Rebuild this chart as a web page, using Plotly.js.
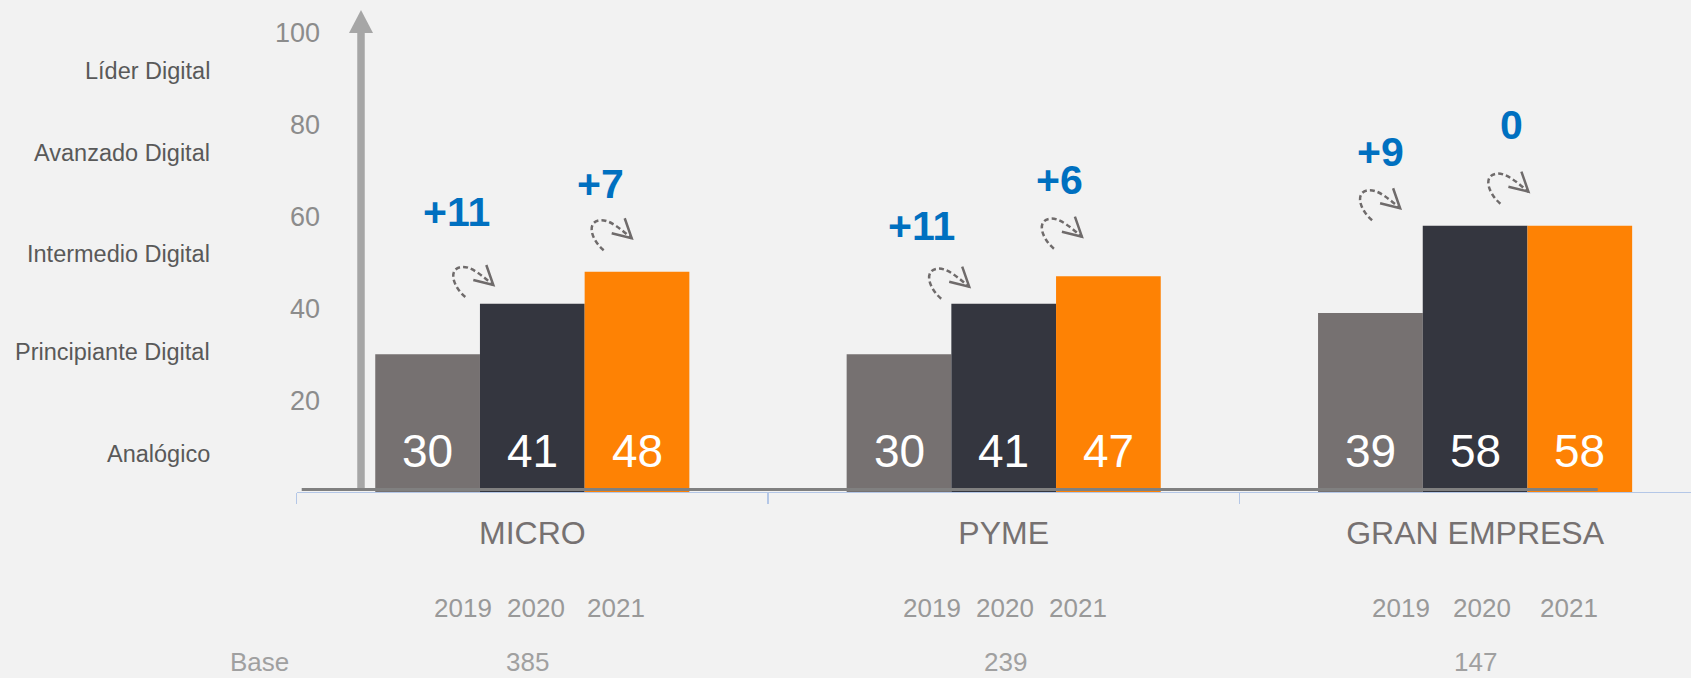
<!DOCTYPE html>
<html><head><meta charset="utf-8">
<script src="https://cdn.plot.ly/plotly-3.0.1.min.js"></script>
<style>html,body{margin:0;padding:0;background:#f2f2f2;}#chart{width:1691px;height:678px;}</style>
</head><body><div id="chart"></div>
<script>
// ---------- data ----------
const categories = ['MICRO', 'PYME', 'GRAN EMPRESA'];
const years = ['2019', '2020', '2021'];
const values2019 = [30, 30, 39];
const values2020 = [41, 41, 58];
const values2021 = [48, 47, 58];
const change1920 = ['+11', '+11', '+9'];
const change2021 = ['+7', '+6', '0'];
const baseSizes = ['385', '239', '147'];
const baseLabel = 'Base';
const levelLabels = ['Líder Digital', 'Avanzado Digital', 'Intermedio Digital', 'Principiante Digital', 'Analógico'];
const yTicks = [20, 40, 60, 80, 100];

// ---------- layout / style ----------
const W = 1691, H = 678;
const PLOT_TOP = 33, PLOT_BOTTOM = 492;
const FONT = '"Liberation Sans", Arial, sans-serif';
const barColors = ['#767171', '#34363f', '#fe8204'];
const barPx = 104.7;
const levelPos = [91.7, 73.9, 51.9, 30.6, 8.3];
const yearShift = [[-69.3, 3.7, 83.7], [-71.5, 1.5, 74], [-73.7, 7, 93.5]];
const baseShift = [-4.8, 1.5, 0];
const changeText = [
  {dx: [-75.6, -82.5, -94.2], dy: [92.1, 77.8, 74.1]},
  {dx: [68.5, 55.7, 36.2], dy: [87.5, 96.3, 100.8]}
];
const arrowTip = [
  {dx: [-39, -34.5, -75], dy: [18.8, 17.1, 17.5]},
  {dx: [99.4, 78.2, 53.3], dy: [33.4, 39.6, 34.1]}
];
const curveTpl = [[-28, -12], [-40, -2], [-46, 16], [-32, 18], [-22, 19.5], [-10, 8], [0, 0]];
const headTpl = [[-7, 20], [0, 0], [-20, 5]];

const series = [values2019, values2020, values2021];
const traces = series.map((v, i) => ({
  type: 'bar', x: categories, y: v, name: years[i],
  marker: {color: barColors[i], line: {width: 0}},
  hoverinfo: 'skip'
}));

const annotations = [];
// value labels inside bars (bottom)
series.forEach((v, i) => v.forEach((val, j) => annotations.push({
  text: String(val), xref: 'x', x: categories[j], xshift: (i - 1) * barPx, yref: 'y', y: 0, yshift: 41,
  yanchor: 'middle', showarrow: false, font: {family: FONT, size: 46, color: '#ffffff'}
})));
// level labels
levelLabels.forEach((t, k) => annotations.push({
  text: t, xref: 'paper', x: 212.3 / W, xanchor: 'right', yref: 'y', y: levelPos[k], yanchor: 'middle',
  showarrow: false, font: {family: FONT, size: 23.5, color: '#595959'}
}));
// years and bases
categories.forEach((c, j) => {
  years.forEach((yr, i) => annotations.push({
    text: yr, xref: 'x', x: c, xshift: yearShift[j][i], yref: 'y', y: 0, yshift: -116, yanchor: 'middle',
    showarrow: false, font: {family: FONT, size: 26, color: '#999999'}
  }));
  annotations.push({
    text: baseSizes[j], xref: 'x', x: c, xshift: baseShift[j], yref: 'y', y: 0, yshift: -170, yanchor: 'middle',
    showarrow: false, font: {family: FONT, size: 26, color: '#a0a0a0'}
  });
});
annotations.push({
  text: baseLabel, xref: 'paper', x: 259 / W, xanchor: 'center', yref: 'y', y: 0, yshift: -170, yanchor: 'middle',
  showarrow: false, font: {family: FONT, size: 26, color: '#a0a0a0'}
});
// change labels
const changes = [change1920, change2021];
const targets = [values2020, values2021];
changes.forEach((arr, s) => arr.forEach((t, j) => annotations.push({
  text: t, xref: 'x', x: categories[j], xshift: changeText[s].dx[j], yref: 'y', y: targets[s][j],
  yshift: changeText[s].dy[j], yanchor: 'middle', showarrow: false,
  font: {family: FONT, size: 41, color: '#0070c0', weight: 700}
})));

const shapes = [];
// vertical axis arrow
const axisX = 361 / W;
const py = px => (PLOT_BOTTOM - px) / (PLOT_BOTTOM - PLOT_TOP);
shapes.push({type: 'line', xref: 'paper', yref: 'y', x0: axisX, x1: axisX, y0: 0.5, y1: 100,
  line: {color: '#a6a6a6', width: 7.5}});
shapes.push({type: 'path', xref: 'paper', yref: 'paper',
  path: 'M ' + ((361 - 12) / W) + ',' + py(33) + ' L ' + ((361 + 12) / W) + ',' + py(33) +
        ' L ' + axisX + ',' + py(10) + ' Z',
  fillcolor: '#a6a6a6', line: {width: 0}});
// baseline
shapes.push({type: 'line', xref: 'paper', yref: 'paper',
  x0: 301.7 / W, x1: 1597.7 / W, y0: py(489.6), y1: py(489.6), line: {color: '#808080', width: 3}});
// curved dashed arrows
function pts(tpl, dx, dy) { return tpl.map(p => (p[0] + dx).toFixed(1) + ',' + (p[1] + dy).toFixed(1)); }
changes.forEach((arr, s) => arr.forEach((t, j) => {
  const dx = arrowTip[s].dx[j], dy = arrowTip[s].dy[j];
  const c = pts(curveTpl, dx, dy);
  const h = pts(headTpl, dx, dy);
  const base = {type: 'path', xref: 'x', yref: 'y', xsizemode: 'pixel', ysizemode: 'pixel',
    xanchor: categories[j], yanchor: targets[s][j], fillcolor: 'rgba(0,0,0,0)'};
  shapes.push(Object.assign({}, base, {
    path: 'M ' + c[0] + ' C ' + c[1] + ' ' + c[2] + ' ' + c[3] + ' C ' + c[4] + ' ' + c[5] + ' ' + c[6],
    line: {color: '#6f6b6b', width: 2.5, dash: '5px,3px'}}));
  shapes.push(Object.assign({}, base, {
    path: 'M ' + h[0] + ' L ' + h[1] + ' L ' + h[2],
    line: {color: '#6f6b6b', width: 2.5}}));
}));

const layout = {
  width: W, height: H,
  margin: {l: 0, r: 0, t: PLOT_TOP, b: H - PLOT_BOTTOM, pad: 0},
  paper_bgcolor: '#f2f2f2', plot_bgcolor: '#f2f2f2',
  showlegend: false, barmode: 'group', bargap: 0.3337, bargroupgap: 0,
  xaxis: {
    type: 'category', range: [-0.5, 2.458], domain: [296.6 / W, 1],
    showline: true, linecolor: '#b4c7e7', linewidth: 1.3,
    ticks: 'outside', tickson: 'boundaries', ticklen: 11, tickwidth: 1.3, tickcolor: '#b4c7e7',
    tickfont: {family: FONT, size: 32, color: '#767171'}, ticklabelstandoff: 12,
    showgrid: false, zeroline: false, fixedrange: true
  },
  yaxis: {
    range: [0, 100], anchor: 'free', position: 320 / W,
    tickvals: yTicks, ticks: '', showline: false, showgrid: false, zeroline: false,
    tickfont: {family: FONT, size: 27, color: '#8c8c8c'}, fixedrange: true
  },
  annotations: annotations,
  shapes: shapes
};

Plotly.newPlot('chart', traces, layout, {displayModeBar: false, staticPlot: true});
</script>
</body></html>
